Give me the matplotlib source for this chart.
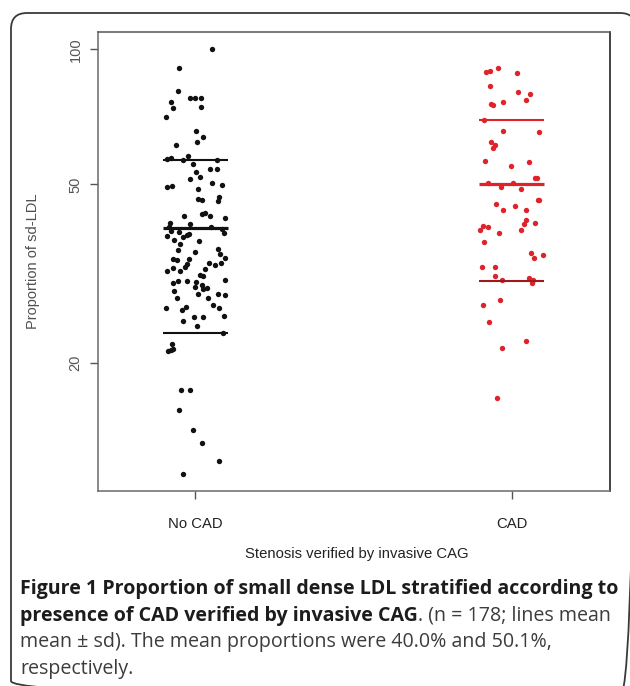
import matplotlib
matplotlib.use("Agg")
import matplotlib.pyplot as plt
from matplotlib.patches import FancyBboxPatch
from matplotlib.ticker import NullLocator, FixedLocator, FixedFormatter
from matplotlib import font_manager

# ---------------- data ----------------
categories = ["No CAD", "CAD"]
y_ticks = [20, 50, 100]
y_tick_labels = ["20", "50", "100"]
x_label = "Stenosis verified by invasive CAG"
y_label = "Proportion of sd-LDL"

no_cad_values = [
    100.0, 90.7, 80.9, 76.5, 77.9, 77.9, 77.9, 74.0, 74.3, 70.8,
    65.9, 63.8, 62.3, 61.1, 58.0, 57.0, 57.2, 56.6, 56.8, 55.5,
    53.4, 54.2, 54.0, 52.0, 51.4, 50.5, 49.3, 49.6, 49.8, 48.8,
    46.3, 46.1, 47.0, 45.9, 42.5, 42.9, 43.1, 42.6, 42.1, 41.1,
    40.8, 40.1, 40.2, 39.8, 39.3, 39.2, 38.9, 38.4, 38.5, 38.8,
    37.7, 38.1, 36.9, 37.4, 35.8, 35.4, 35.9, 35.0, 34.3, 34.1,
    34.0, 34.1, 33.3, 33.5, 33.0, 33.5, 32.1, 32.5, 32.1, 32.7,
    31.5, 32.4, 31.2, 30.1, 30.4, 30.4, 30.3, 29.9, 30.6, 29.0,
    29.5, 29.3, 29.4, 28.5, 28.0, 28.0, 28.5, 28.3, 26.5, 26.2,
    26.7, 26.9, 26.5, 25.3, 25.3, 25.5, 24.8, 24.2, 23.3, 22.1,
    21.3, 21.4, 21.5, 17.4, 17.4, 15.7, 14.2, 13.3, 12.1, 11.3,
]
no_cad_jitter = [
    0.054, -0.052, -0.055, -0.077, -0.017, -0.001, 0.018, -0.069, 0.018, -0.094,
    0.001, 0.025, 0.004, -0.061, -0.022, -0.091, -0.078, -0.040, 0.069, -0.008,
    0.001, 0.045, 0.069, 0.015, -0.016, 0.054, -0.090, -0.075, 0.083, 0.007,
    0.007, 0.022, 0.074, 0.072, -0.035, 0.020, 0.032, 0.047, 0.095, -0.079,
    -0.016, -0.083, 0.050, 0.086, -0.078, -0.052, 0.090, -0.088, -0.027, -0.019,
    -0.066, -0.039, -0.048, 0.013, -0.056, -0.001, 0.073, 0.078, 0.095, -0.072,
    -0.058, -0.021, -0.027, 0.042, 0.062, 0.082, -0.091, -0.070, -0.047, -0.032,
    0.015, 0.032, 0.023, -0.070, -0.055, -0.025, 0.001, 0.020, 0.095, -0.067,
    0.000, 0.024, 0.038, 0.010, -0.058, 0.039, 0.073, 0.095, -0.093, -0.043,
    -0.029, 0.057, 0.076, -0.005, 0.024, 0.091, -0.038, 0.006, 0.087, -0.073,
    -0.086, -0.078, -0.070, -0.046, -0.017, -0.050, -0.006, 0.022, 0.076, -0.040,
]
cad_values = [
    89.0, 89.4, 90.9, 88.6, 82.9, 80.2, 79.4, 77.2, 75.5, 75.1,
    76.5, 69.6, 65.7, 65.4, 62.1, 61.2, 60.2, 56.4, 55.0, 56.0,
    51.7, 51.7, 50.5, 50.4, 49.3, 48.8, 46.1, 46.1, 45.2, 44.8,
    43.8, 43.9, 41.7, 41.1, 40.8, 40.5, 40.3, 39.5, 39.0, 39.5,
    37.2, 35.1, 34.9, 34.3, 32.7, 32.7, 31.2, 30.7, 30.9, 30.6,
    30.1, 27.0, 27.6, 24.7, 22.4, 21.6, 16.7,
]
cad_jitter = [
    -0.082, -0.067, -0.044, 0.018, -0.068, 0.021, 0.058, 0.044, -0.064, -0.058,
    -0.027, -0.088, -0.027, 0.086, -0.065, -0.052, -0.058, -0.085, -0.003, 0.056,
    0.075, 0.081, -0.076, 0.005, -0.032, 0.029, 0.082, 0.088, -0.050, 0.011,
    -0.027, 0.044, 0.047, 0.074, 0.040, -0.091, -0.074, -0.100, -0.041, 0.029,
    -0.088, 0.062, 0.100, 0.070, -0.094, -0.052, -0.052, -0.030, 0.055, 0.069,
    0.065, -0.091, -0.038, -0.073, 0.044, -0.030, -0.047,
]
group_means = [40.0, 50.1]
group_sds = [16.7, 19.6]

caption_line1 = "Figure 1 Proportion of small dense LDL stratified according to"
caption_line2_bold = "presence of CAD verified by invasive CAG"
caption_line2_reg = ". (n = 178; lines mean"
caption_line3 = "mean \u00b1 sd). The mean proportions were 40.0% and 50.1%,"
caption_line4 = "respectively."

# ---------------- styling ----------------
W, H = 630, 686
point_colors = ["#111111", "#e0222b"]
line_colors = [["#111111", "#111111", "#111111"], ["#e0222b", "#e0222b", "#9a1a1e"]]

avail = {f.name for f in font_manager.fontManager.ttflist}
narrow = "Liberation Sans Narrow" if "Liberation Sans Narrow" in avail else "Liberation Sans"

fig = plt.figure(figsize=(W / 100, H / 100), dpi=100)
fig.patch.set_facecolor("white")

# background axes in pixel coordinates
bg = fig.add_axes([0, 0, 1, 1], zorder=0)
bg.set_xlim(0, W)
bg.set_ylim(H, 0)
bg.axis("off")
border = FancyBboxPatch((11, 13), 625, 684, boxstyle="round,pad=0,rounding_size=16",
                        fill=False, edgecolor="#3a3a3a", linewidth=1.3)
bg.add_patch(border)

# main plot
L, R, T, B = 97.7, 610, 32, 491
ax = fig.add_axes([L / W, 1 - B / H, (R - L) / W, (B - T) / H], zorder=1)
ax.set_yscale("log")
ax.set_ylim(10.38, 109.3)
ax.set_xlim(0.6915, 2.311)

groups = [(no_cad_values, no_cad_jitter), (cad_values, cad_jitter)]
half = 0.103
for i, (vals, jit) in enumerate(groups):
    pos = i + 1
    xs = [pos + j for j in jit]
    ax.scatter(xs, vals, s=15, color=point_colors[i], linewidths=0, zorder=3)
    m, sd = group_means[i], group_sds[i]
    ax.hlines(m, pos - half, pos + half, color=line_colors[i][0], linewidth=2.3, zorder=4)
    ax.hlines(m + sd, pos - half, pos + half, color=line_colors[i][1], linewidth=1.5, zorder=4)
    ax.hlines(m - sd, pos - half, pos + half, color=line_colors[i][2], linewidth=1.5, zorder=4)

ax.yaxis.set_major_locator(FixedLocator(y_ticks))
ax.yaxis.set_major_formatter(FixedFormatter(y_tick_labels))
ax.yaxis.set_minor_locator(NullLocator())
ax.set_xticks([1, 2])
ax.set_xticklabels(categories)

for side, col in [("left", "#6a6a6a"), ("bottom", "#6a6a6a"), ("top", "#555555"), ("right", "#111111")]:
    ax.spines[side].set_color(col)
    ax.spines[side].set_linewidth(1.1)

ax.tick_params(axis="y", direction="out", length=6, width=1, color="#555555",
               labelcolor="#555555", labelsize=10.5, pad=5)
ax.tick_params(axis="x", direction="out", length=6, width=1, color="#555555",
               labelcolor="#222222", labelsize=12, pad=13)
for lab in ax.get_yticklabels():
    lab.set_rotation(90)
    lab.set_va("center")
    lab.set_family("Liberation Sans")
for lab in ax.get_xticklabels():
    lab.set_family(narrow)

ax.set_ylabel(y_label, fontsize=10.5, color="#505050", family="Liberation Sans")
ax.yaxis.set_label_coords((40 - L) / (R - L), 0.5)
xl = ax.set_xlabel(x_label, fontsize=12, color="#222222", family=narrow)
ax.xaxis.set_label_coords((357 - L) / (R - L), (B - 554) / (B - T))
xl.set_va("center")

fig.canvas.draw()
renderer = fig.canvas.get_renderer()

def fit(t, target_px):
    w = t.get_window_extent(renderer).width
    t.set_fontsize(t.get_fontsize() * target_px / w)

fit(xl, 223)
for lab in ax.get_xticklabels():
    lab.set_fontsize(xl.get_fontsize())

# caption
cap_font = ["Open Sans", "DejaVu Sans"]
t1 = bg.text(20, 594, caption_line1, fontsize=12, fontweight="bold", family=cap_font,
             color="#1c1c1c", va="baseline", ha="left")
fig.canvas.draw()
fit(t1, 597)
fs = t1.get_fontsize()
t2 = bg.text(20, 620.5, caption_line2_bold, fontsize=fs, fontweight="bold", family=cap_font,
             color="#1c1c1c", va="baseline", ha="left")
fig.canvas.draw()
w2 = t2.get_window_extent(renderer).width
bg.text(20 + w2, 620.5, caption_line2_reg, fontsize=fs, family=cap_font,
        color="#3c3c3c", va="baseline", ha="left")
bg.text(20, 647.5, caption_line3, fontsize=fs, family=cap_font,
        color="#3c3c3c", va="baseline", ha="left")
bg.text(20, 674, caption_line4, fontsize=fs, family=cap_font,
        color="#3c3c3c", va="baseline", ha="left")

fig.savefig("out.png", dpi=100, facecolor="white")
